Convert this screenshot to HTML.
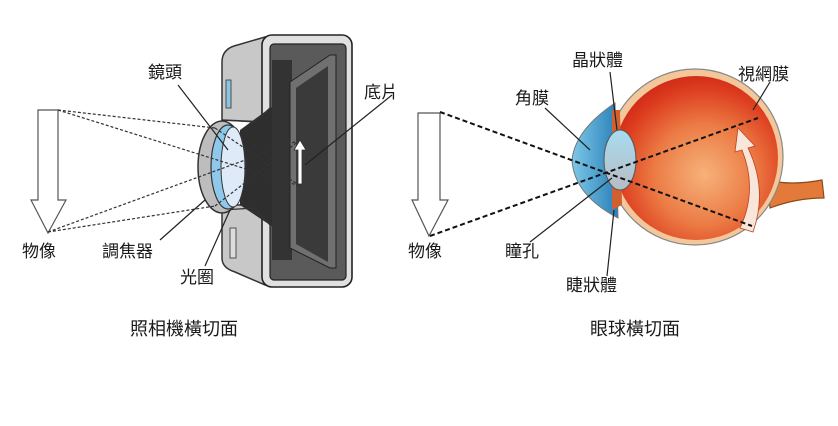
<!DOCTYPE html>
<html><head><meta charset="utf-8"><style>
html,body{margin:0;padding:0;background:#fff;}
svg{display:block}
text{font-family:"Liberation Sans","Noto Sans CJK TC",sans-serif;font-size:17px;fill:#1a1a1a;}
</style></head><body>
<svg width="838" height="426" viewBox="0 0 838 426" xmlns="http://www.w3.org/2000/svg">
<defs>
<radialGradient id="eyeg" cx="0.55" cy="0.6" r="0.62">
<stop offset="0" stop-color="#f6b27a"/><stop offset="0.5" stop-color="#ec7a44"/><stop offset="0.85" stop-color="#dc3c1e"/><stop offset="1" stop-color="#d02a18"/>
</radialGradient>
<linearGradient id="corn" x1="0" x2="1"><stop offset="0" stop-color="#7cc8e8"/><stop offset="1" stop-color="#2a7fb8"/></linearGradient>
<linearGradient id="lensg" x1="0" y1="0" x2="0" y2="1"><stop offset="0" stop-color="#a8dcf0"/><stop offset="1" stop-color="#b8bcc4"/></linearGradient>
</defs>

<!-- ===== CAMERA ===== -->
<path d="M222,120 L222,62 Q222,50 234,46 L265,37 L265,122 Z" fill="#c8c8c8" stroke="#333" stroke-width="1.5"/>
<path d="M222,205 L265,205 L265,285 L235,272 Q222,268 222,258 Z" fill="#c8c8c8" stroke="#333" stroke-width="1.5"/>
<rect x="226" y="80" width="5" height="28" fill="#8cc4e0" stroke="#333" stroke-width="0.8"/>
<rect x="230" y="228" width="6" height="30" fill="#ddd" stroke="#333" stroke-width="0.8"/>
<rect x="262" y="35" width="90" height="252" rx="10" fill="#e0e0e0" stroke="#222" stroke-width="1.6"/>
<rect x="270" y="44" width="76" height="236" rx="4" fill="#5a5a5a" stroke="#222" stroke-width="1.2"/>
<path d="M240,130 L270,108 L300,95 L300,245 L270,225 L240,205 Z" fill="#2e2e2e"/>
<rect x="272" y="60" width="20" height="200" fill="#333"/>
<path d="M290,82 L330,55 L336,55 L336,268 L330,268 L290,248 Z" fill="#707070" stroke="#222" stroke-width="1"/>
<path d="M296,88 L328,66 L328,262 L296,244 Z" fill="#3a3a3a"/>
<path d="M298,184 L298,150 L294,150 L300,140 L306,150 L302,150 L302,184 Z" fill="#fff" stroke="#333" stroke-width="0.8"/>
<path d="M222,120 L255,122 L270,108" fill="none" stroke="#333" stroke-width="1.3"/>
<path d="M222,210 L255,208 L270,225" fill="none" stroke="#333" stroke-width="1.3"/>
<ellipse cx="222" cy="167" rx="24" ry="46" fill="#bdbdbd" stroke="#333" stroke-width="1.5"/>
<ellipse cx="228" cy="167" rx="17" ry="42" fill="#8fc8ea" stroke="#333" stroke-width="1.2"/>
<ellipse cx="233" cy="167" rx="12" ry="40" fill="#dfeaf8" stroke="#333" stroke-width="1"/>

<path d="M38,110 L58,110 L58,200 L66,200 L48,233 L31,200 L38,200 Z" fill="#fff" stroke="#555" stroke-width="1.2"/>
<g stroke="#333" stroke-width="1.2" stroke-dasharray="3,2" fill="none">
<line x1="58" y1="110" x2="300" y2="186"/>
<line x1="58" y1="110" x2="215" y2="128"/>
<line x1="48" y1="232" x2="300" y2="140"/>
<line x1="48" y1="232" x2="215" y2="206"/>
<line x1="215" y1="128" x2="300" y2="186"/>
<line x1="215" y1="206" x2="300" y2="140"/>
</g>
<g stroke="#222" stroke-width="1.2">
<line x1="178" y1="85" x2="228" y2="150"/>
<line x1="392" y1="95" x2="305" y2="165"/>
<line x1="160" y1="240" x2="205" y2="200"/>
<line x1="205" y1="266" x2="230" y2="210"/>
</g>
<text x="148" y="78">鏡頭</text>
<text x="364" y="98">底片</text>
<text x="22" y="257">物像</text>
<text x="102" y="257">調焦器</text>
<text x="180" y="283">光圈</text>
<text x="130" y="335" style="font-size:18px">照相機橫切面</text>

<!-- ===== EYE ===== -->
<path d="M768,180 Q790,186 822,180 L824,198 Q796,198 770,208 Z" fill="#e47a3a" stroke="#8a4a1a" stroke-width="1.2"/>
<circle cx="695" cy="157" r="88" fill="#f3c79a" stroke="#888" stroke-width="1.2"/>
<circle cx="696" cy="158" r="82" fill="url(#eyeg)"/>
<path d="M615,103 Q575,130 572,160 Q574,195 618,218 Z" fill="url(#corn)" stroke="#777" stroke-width="1"/>
<path d="M612,110 L620,110 L622,205 L612,210 Z" fill="#d06030"/>
<ellipse cx="620" cy="160" rx="16" ry="30" fill="url(#lensg)" stroke="#555" stroke-width="1"/>
<path d="M753,232 Q768,190 748,148 L755,146 L738,128 L735,152 L742,150 Q758,190 740,228 Z" fill="#f8e6da" stroke="#c04020" stroke-width="0.8"/>
<path d="M418,113 L440,113 L440,200 L448,200 L429,236 L412,200 L418,200 Z" fill="#fff" stroke="#555" stroke-width="1.2"/>
<g stroke="#111" stroke-width="2" stroke-dasharray="5,3" fill="none">
<line x1="440" y1="112" x2="752" y2="226"/>
<line x1="430" y1="236" x2="758" y2="118"/>
</g>
<g stroke="#222" stroke-width="1.2">
<line x1="610" y1="72" x2="617" y2="130"/>
<line x1="545" y1="108" x2="590" y2="150"/>
<line x1="770" y1="82" x2="753" y2="110"/>
<line x1="530" y1="242" x2="612" y2="178"/>
<line x1="607" y1="276" x2="614" y2="210"/>
</g>
<text x="572" y="66">晶狀體</text>
<text x="515" y="104">角膜</text>
<text x="738" y="80">視網膜</text>
<text x="408" y="257">物像</text>
<text x="505" y="257">瞳孔</text>
<text x="566" y="291">睫狀體</text>
<text x="590" y="335" style="font-size:18px">眼球橫切面</text>
</svg>
</body></html>
